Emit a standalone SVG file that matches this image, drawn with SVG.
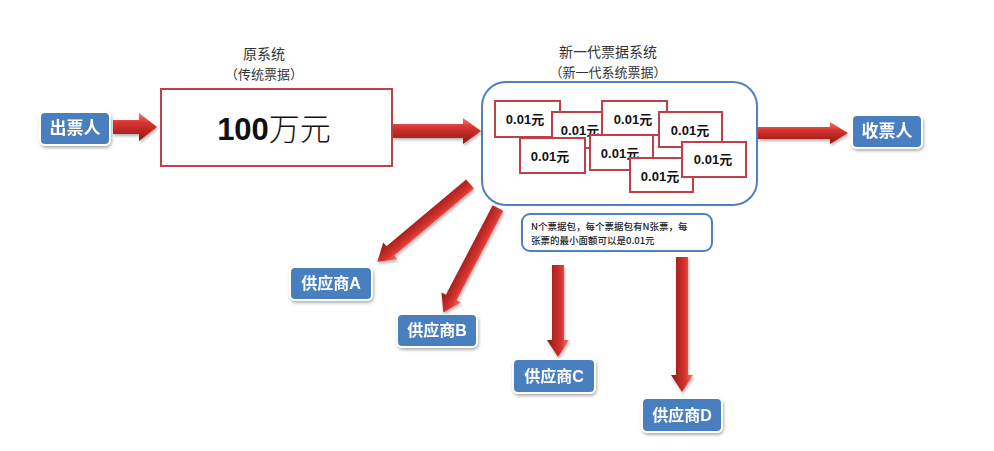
<svg xmlns="http://www.w3.org/2000/svg" width="994" height="451" viewBox="0 0 994 451">
<defs>
<linearGradient id="rg" x1="0" y1="0" x2="0" y2="1">
<stop offset="0" stop-color="#ee7a74"/>
<stop offset="0.35" stop-color="#d9342f"/>
<stop offset="1" stop-color="#8e1816"/>
</linearGradient>
<filter id="sh" x="-20%" y="-20%" width="140%" height="150%">
<feDropShadow dx="1" dy="2" stdDeviation="1.5" flood-color="#000" flood-opacity="0.3"/>
</filter>
<style>
.node rect{fill:#4a7ebf;stroke:#ffffff;stroke-width:2;}
.node text{fill:#fff;font-family:"Liberation Sans","Noto Sans CJK SC",sans-serif;font-weight:bold;font-size:16px;text-anchor:middle;}
.arr{fill:url(#rg);}
.tk rect{fill:#fff;stroke:#c0404a;stroke-width:2;}
.tk text{font-family:"Liberation Sans","Noto Sans CJK SC",sans-serif;font-weight:bold;font-size:13px;fill:#111;text-anchor:middle;}
.ttl{font-family:"Noto Sans CJK SC",sans-serif;font-size:13px;fill:#333;text-anchor:middle;}
</style>
</defs>
<rect width="994" height="451" fill="#fff"/>

<g id="node-issuer" class="node" filter="url(#sh)"><rect x="40" y="112" width="70" height="33" rx="5"/><text x="75" y="134" style="font-size:17px">出票人</text></g>
<g id="node-receiver" class="node" filter="url(#sh)"><rect x="852" y="115" width="70" height="33" rx="5"/><text x="887" y="137" style="font-size:17px">收票人</text></g>
<g id="node-supA" class="node" filter="url(#sh)"><rect x="290" y="267" width="82" height="33" rx="5"/><text x="331" y="289">供应商A</text></g>
<g id="node-supB" class="node" filter="url(#sh)"><rect x="397" y="314" width="80" height="33" rx="5"/><text x="437" y="336">供应商B</text></g>
<g id="node-supC" class="node" filter="url(#sh)"><rect x="513" y="359" width="82" height="34" rx="5"/><text x="554" y="382">供应商C</text></g>
<g id="node-supD" class="node" filter="url(#sh)"><rect x="642" y="398" width="80" height="34" rx="5"/><text x="682" y="421">供应商D</text></g>

<g id="node-old">
<text class="ttl" x="264" y="59" style="font-size:14px">原系统</text>
<text class="ttl" x="264" y="79">（传统票据）</text>
<rect x="161" y="89" width="231" height="77" fill="#fff" stroke="#c0404a" stroke-width="2"/>
<text x="274" y="140" font-family="Liberation Sans,Noto Sans CJK SC,sans-serif" font-size="31" fill="#111" text-anchor="middle"><tspan font-weight="bold">100</tspan><tspan font-family="Noto Sans CJK SC,sans-serif" font-weight="300">万元</tspan></text>
</g>

<g id="node-new">
<text class="ttl" x="608" y="57" style="font-size:14px">新一代票据系统</text>
<text class="ttl" x="608" y="77">（新一代系统票据）</text>
<rect x="482" y="82" width="275" height="123" rx="24" fill="#fff" stroke="#4f81bd" stroke-width="2"/>
<g class="tk"><rect x="495" y="101" width="65" height="36"/><text x="525" y="124">0.01元</text></g>
<g class="tk"><rect x="552" y="112" width="65" height="36"/><text x="580" y="135">0.01元</text></g>
<g class="tk"><rect x="602" y="101" width="65" height="34"/><text x="633" y="124">0.01元</text></g>
<g class="tk"><rect x="659" y="112" width="63" height="35"/><text x="690" y="135">0.01元</text></g>
<g class="tk"><rect x="520" y="138" width="65" height="35"/><text x="550" y="161">0.01元</text></g>
<g class="tk"><rect x="590" y="135" width="63" height="35"/><text x="620" y="158">0.01元</text></g>
<g class="tk"><rect x="630" y="158" width="63" height="34"/><text x="660" y="181">0.01元</text></g>
<g class="tk"><rect x="682" y="142" width="64" height="35"/><text x="713" y="164">0.01元</text></g>
</g>

<g id="node-note">
<rect x="522" y="214" width="190" height="37" rx="8" fill="#fff" stroke="#4f81bd" stroke-width="2"/>
<text font-family="Noto Sans CJK SC,sans-serif" font-size="9.5" font-weight="500" fill="#222"><tspan x="531" y="230">N个票据包，每个票据包有N张票，每</tspan><tspan x="531" y="244">张票的最小面额可以是0.01元</tspan></text>
</g>

<g id="connectors" filter="url(#sh)">
<g transform="translate(113,127)"><polygon class="arr" points="0,-7 26,-7 26,-14 44,0 26,14 26,7 0,7"/></g>
<g transform="translate(393,131)"><polygon class="arr" points="0,-7 70,-7 70,-13 88,0 70,13 70,7 0,7"/></g>
<g transform="translate(758,133)"><polygon class="arr" points="0,-6 72,-6 72,-11 90,0 72,11 72,6 0,6"/></g>
<g transform="translate(470,184) rotate(140)"><polygon class="arr" points="0,-6 104,-6 104,-11 121,0 104,11 104,6 0,6"/></g>
<g transform="translate(498,208) rotate(117.6)"><polygon class="arr" points="0,-6 101,-6 101,-11 118,0 101,11 101,6 0,6"/></g>
<g transform="translate(558,265) rotate(90)"><polygon class="arr" points="0,-6 75,-6 75,-11 92,0 75,11 75,6 0,6"/></g>
<g transform="translate(682,257) rotate(90)"><polygon class="arr" points="0,-6 118,-6 118,-11 135,0 118,11 118,6 0,6"/></g>
</g>
</svg>
